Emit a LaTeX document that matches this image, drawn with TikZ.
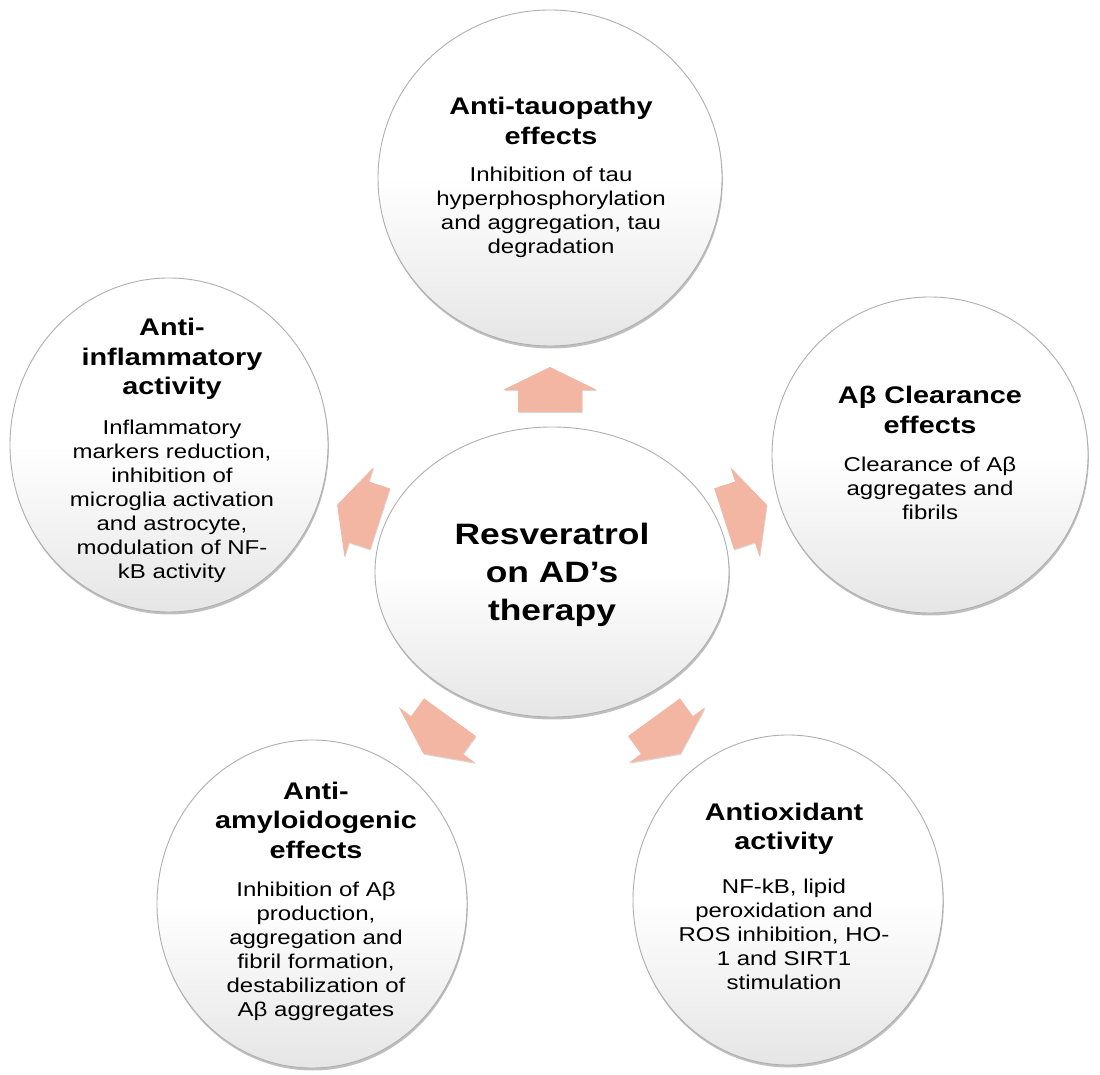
\documentclass[tikz,border=0pt]{standalone}
\usepackage{fontspec}
\setmainfont{Liberation Sans}
\newfontfamily\sx[FakeStretch=1.2]{Liberation Sans}
\usetikzlibrary{shapes.geometric,shadows}
\definecolor{arrowfill}{RGB}{242,182,162}
\definecolor{rimgray}{RGB}{175,175,175}
\pgfdeclareverticalshading{bubbleshade}{100bp}{
  color(0bp)=(black!14); color(25bp)=(black!10); color(50bp)=(white); color(100bp)=(white)}
\tikzset{
  bubble/.style={ellipse, inner sep=0pt, draw=rimgray, line width=0.9pt,
    shading=bubbleshade,
    drop shadow={shadow xshift=0.8pt, shadow yshift=-2.5pt, opacity=0.45, fill=black!55}},
  ttl/.style={align=center, font=\sx\bfseries\fontsize{24}{29.5}\selectfont, inner sep=0pt},
  bdy/.style={align=center, font=\sx\fontsize{20}{24}\selectfont, inner sep=0pt},
  ctr/.style={align=center, font=\sx\bfseries\fontsize{29.5}{38}\selectfont, inner sep=0pt},
  blockarrow/.pic={
    \fill[arrowfill, drop shadow={shadow xshift=0.6pt, shadow yshift=-1.2pt, opacity=0.3, fill=black!50}]
      (-22,-32) -- (0,-32) -- (0,-47) -- (23,0) -- (0,47) -- (0,32) -- (-22,32) -- cycle;
  }
}
\begin{document}
\begin{tikzpicture}[x=1pt,y=1pt]
\useasboundingbox (0,0) rectangle (1100,1074);
\fill[white] (0,0) rectangle (1100,1074);

% circles
\node (c)  [bubble, minimum width=354pt, minimum height=290pt] at (552,502) {};
\node (t)  [bubble, minimum width=344pt, minimum height=336pt] at (550,896) {};
\node (r)  [bubble, minimum width=316pt, minimum height=316pt] at (930,619) {};
\node (l)  [bubble, minimum width=318pt, minimum height=334pt] at (169,629) {};
\node (bl) [bubble, minimum width=310pt, minimum height=328pt] at (312,170) {};
\node (br) [bubble, minimum width=310pt, minimum height=330pt] at (788,174) {};

% arrows
\pic[rotate=90]   at (550,684) {blockarrow};
\pic[rotate=18]   at (745,562) {blockarrow};
\pic[rotate=162]  at (359,562) {blockarrow};
\pic[rotate=-126] at (437,339) {blockarrow};
\pic[rotate=-54]  at (667,339) {blockarrow};

% center text
\node (ctext) [ctr] at (552,499) {Resveratrol\\on AD’s\\therapy};

% top
\node (tt) [ttl] at (551,953) {Anti-tauopathy\\effects};
\node (tb) [bdy] at (551,862) {Inhibition of tau\\hyperphosphorylation\\and aggregation, tau\\degradation};

% right
\node (rt) [ttl] at (930,664) {Aβ Clearance\\effects};
\node (rb) [bdy] at (930,586) {Clearance of Aβ\\aggregates and\\fibrils};

% left
\node (lt) [ttl] at (172,715) {Anti-\\inflammatory\\activity};
\node (lb) [bdy] at (172,573) {Inflammatory\\markers reduction,\\inhibition of\\microglia activation\\and astrocyte,\\modulation of NF-\\kB activity};

% bottom-left
\node (blt) [ttl] at (316,254) {Anti-\\amyloidogenic\\effects};
\node (blb) [bdy] at (316,123) {Inhibition of Aβ\\production,\\aggregation and\\fibril formation,\\destabilization of\\Aβ aggregates};

% bottom-right
\node (brt) [ttl] at (784,245) {Antioxidant\\activity};
\node (brb) [bdy] at (784,140) {NF-kB, lipid\\peroxidation and\\ROS inhibition, HO-\\1 and SIRT1\\stimulation};
\end{tikzpicture}
\end{document}
